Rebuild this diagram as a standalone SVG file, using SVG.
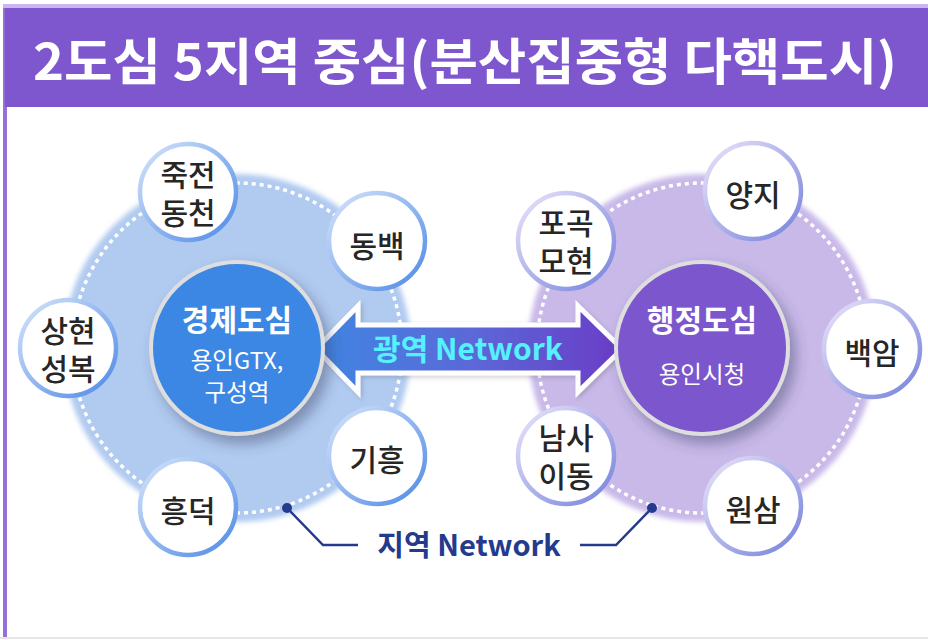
<svg xmlns="http://www.w3.org/2000/svg" width="928" height="640" viewBox="0 0 928 640">
<defs>
<style>
text{font-family:"Noto Sans CJK KR","Noto Sans",sans-serif;text-anchor:middle}
.sat{fill:#fff}
.st{font-size:30px;fill:#262626;font-weight:500}
.ct{fill:#fff;font-size:30px;font-weight:700}
.cs{fill:#fff;font-size:23.5px;font-weight:400}
.ring{fill:none;stroke:#fff;stroke-width:3.5;stroke-dasharray:4 4}
</style>
<linearGradient id="gb" x1="0" y1="0" x2="1" y2="1">
<stop offset="0" stop-color="#d6e4fa"/><stop offset="1" stop-color="#4f8ae6"/>
</linearGradient>
<linearGradient id="gp" x1="0" y1="0" x2="1" y2="1">
<stop offset="0" stop-color="#ebe4fa"/><stop offset="1" stop-color="#7482dc"/>
</linearGradient>
<linearGradient id="ga" x1="0" y1="0" x2="1" y2="0">
<stop offset="0" stop-color="#3f86e2"/><stop offset="0.5" stop-color="#5b69d8"/><stop offset="1" stop-color="#6a3cc6"/>
</linearGradient>
<filter id="sh" x="-30%" y="-30%" width="170%" height="170%">
<feDropShadow dx="6" dy="8" stdDeviation="7" flood-color="#3a3f66" flood-opacity="0.45"/>
</filter>
<filter id="ss" x="-30%" y="-30%" width="160%" height="160%">
<feDropShadow dx="2" dy="2" stdDeviation="2" flood-color="#445" flood-opacity="0.25"/>
</filter>
<filter id="gl" x="-10%" y="-10%" width="120%" height="120%">
<feGaussianBlur stdDeviation="2.5"/>
</filter>
</defs>
<rect width="928" height="640" fill="#fff"/>
<rect x="3" y="4" width="925" height="4" fill="#c9b6ee"/>
<rect x="3" y="8" width="4" height="629" fill="#9470d8"/>
<rect x="5" y="8" width="923" height="99" fill="#7e57cf"/>
<rect x="0" y="637" width="928" height="2" fill="#e6e6e6"/>
<text x="465" y="80" font-size="50" font-weight="700" fill="#fff" textLength="864" lengthAdjust="spacingAndGlyphs">2도심 5지역 중심(분산집중형 다핵도시)</text>

<g id="left-area">
<circle cx="237" cy="348" r="174" fill="#b1cbf0" filter="url(#gl)"/>
<circle cx="237" cy="348" r="165" class="ring"/>
</g>
<g id="right-area">
<circle cx="702" cy="348" r="174" fill="#c9b9e9" filter="url(#gl)"/>
<circle cx="702" cy="348" r="165" class="ring"/>
</g>

<g id="connectors">
<path d="M287 508 L323 545 L358 545" fill="none" stroke="#243a8c" stroke-width="2.5"/>
<circle cx="287" cy="508" r="5" fill="#243a8c"/>
<path d="M652 508 L616 545 L580 545" fill="none" stroke="#243a8c" stroke-width="2.5"/>
<circle cx="652" cy="508" r="5" fill="#243a8c"/>
<g id="wide-arrow">
<path d="M316 349 L358 306 L358 325 L578 325 L578 306 L622 349 L578 392 L578 373 L358 373 L358 392 Z" fill="url(#ga)" stroke="#fff" stroke-width="5" stroke-linejoin="miter" filter="url(#ss)"/>
<text x="468" y="360" font-size="30" font-weight="700" fill="#55f1ff">광역 Network</text>
</g>
</g>

<g id="economy-center">
<circle cx="237" cy="348" r="86" fill="#3e87e4" stroke="#dedede" stroke-width="4" filter="url(#sh)"/>
<text class="ct" x="237" y="331">경제도심</text>
<text class="cs" x="237" y="369">용인GTX,<tspan x="237" dy="32">구성역</tspan></text>
</g>
<g id="admin-center">
<circle cx="702" cy="348" r="86" fill="#7c56cd" stroke="#dedede" stroke-width="4" filter="url(#sh)"/>
<text class="ct" x="702" y="331">행정도심</text>
<text class="cs" x="702" y="383">용인시청</text>
</g>

<g id="jukjeon">
<circle cx="188" cy="192" r="48" class="sat" stroke="url(#gb)" stroke-width="4.5"/>
<text class="st" x="188" y="186">죽전<tspan x="188" dy="38">동천</tspan></text>
</g>
<g id="dongbaek">
<circle cx="377" cy="241" r="48" class="sat" stroke="url(#gb)" stroke-width="4.5"/>
<text class="st" x="377" y="257">동백</text>
</g>
<g id="sanghyeon">
<circle cx="68" cy="348" r="48" class="sat" stroke="url(#gb)" stroke-width="4.5"/>
<text class="st" x="68" y="342">상현<tspan x="68" dy="38">성복</tspan></text>
</g>
<g id="giheung">
<circle cx="377" cy="456" r="48" class="sat" stroke="url(#gb)" stroke-width="4.5"/>
<text class="st" x="377" y="471">기흥</text>
</g>
<g id="heungdeok">
<circle cx="188" cy="507" r="48" class="sat" stroke="url(#gb)" stroke-width="4.5"/>
<text class="st" x="188" y="522">흥덕</text>
</g>

<g id="yangji">
<circle cx="753" cy="191" r="48" class="sat" stroke="url(#gp)" stroke-width="4.5"/>
<text class="st" x="753" y="206">양지</text>
</g>
<g id="pogok">
<circle cx="566" cy="241" r="48" class="sat" stroke="url(#gp)" stroke-width="4.5"/>
<text class="st" x="566" y="234">포곡<tspan x="566" dy="38">모현</tspan></text>
</g>
<g id="baegam">
<circle cx="872" cy="349" r="48" class="sat" stroke="url(#gp)" stroke-width="4.5"/>
<text class="st" x="872" y="364">백암</text>
</g>
<g id="namsa">
<circle cx="566" cy="456" r="48" class="sat" stroke="url(#gp)" stroke-width="4.5"/>
<text class="st" x="566" y="449">남사<tspan x="566" dy="38">이동</tspan></text>
</g>
<g id="wonsam">
<circle cx="753" cy="506" r="48" class="sat" stroke="url(#gp)" stroke-width="4.5"/>
<text class="st" x="753" y="521">원삼</text>
</g>

<text x="469" y="556" font-size="29" font-weight="700" fill="#243a8c">지역 Network</text>
</svg>
